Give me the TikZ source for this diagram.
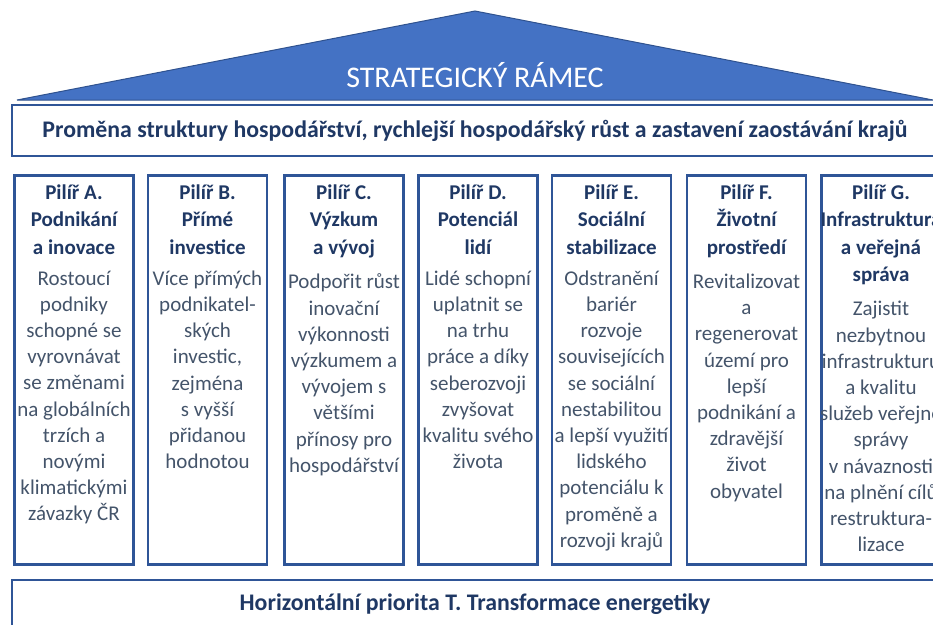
\documentclass[tikz,border=0pt]{standalone}
\usepackage{fontspec}
\setmainfont{Carlito}
\usetikzlibrary{positioning}
\definecolor{roofblue}{HTML}{4472C4}
\definecolor{roofedge}{HTML}{2F528F}
\definecolor{frameblue}{HTML}{2F5597}
\definecolor{headnavy}{HTML}{1F3864}
\definecolor{bodygray}{HTML}{44546A}

\begin{document}
\begin{tikzpicture}[x=1pt,y=-1pt,
	pillar/.style={draw=frameblue,line width=2.6pt,minimum width=119pt,minimum height=389pt,inner sep=0pt},
	pilhead/.style={anchor=north,align=center,inner sep=0pt,text=headnavy,font=\fontsize{21}{27.5}\selectfont\bfseries},
	pilbody/.style={align=center,inner sep=0pt,text=bodygray,font=\fontsize{21}{26.2}\selectfont},
	bar/.style={draw=frameblue,line width=2.2pt,inner sep=0pt}]
\useasboundingbox (0,0) rectangle (933,624);

% roof
\draw[fill=roofblue,draw=roofedge,line width=1pt] (17,100) -- (475,11) -- (933,100) -- cycle;
\node[text=white,font=\fontsize{30}{32}\selectfont] (title) at (475,75) {STRATEGICKÝ RÁMEC};

% top beam
\node[bar,minimum width=926pt,minimum height=51pt] (goal) at (475,130.5) {};
\node[text=headnavy,font=\fontsize{23.8}{26}\selectfont\bfseries] (goaltext) at (goal.center) {Proměna struktury hospodářství, rychlejší hospodářský růst a zastavení zaostávání krajů};

% pillars
\node[pillar] (pilA) at (74,370) {};
\node[pillar] (pilB) at (207.5,370) {};
\node[pillar] (pilC) at (344,370) {};
\node[pillar] (pilD) at (478,370) {};
\node[pillar] (pilE) at (611.5,370) {};
\node[pillar] (pilF) at (746.5,370) {};
\node[pillar] (pilG) at (881,370) {};

\node[pilhead] (headA) at ([yshift=-10pt]pilA.north) {Pilíř A.\\Podnikání\\a inovace};
\node[pilbody,below=16pt of headA] (bodyA) {Rostoucí\\podniky\\schopné se\\vyrovnávat\\se změnami\\na globálních\\trzích a\\novými\\klimatickými\\závazky ČR};

\node[pilhead] (headB) at ([yshift=-10pt]pilB.north) {Pilíř B.\\Přímé\\investice};
\node[pilbody,below=16pt of headB] (bodyB) {Více přímých\\podnikatel-\\ských\\investic,\\zejména\\s vyšší\\přidanou\\hodnotou};

\node[pilhead] (headC) at ([yshift=-10pt]pilC.north) {Pilíř C.\\Výzkum\\a vývoj};
\node[pilbody,below=16pt of headC] (bodyC) {Podpořit růst\\inovační\\výkonnosti\\výzkumem a\\vývojem s\\většími\\přínosy pro\\hospodářství};

\node[pilhead] (headD) at ([yshift=-10pt]pilD.north) {Pilíř D.\\Potenciál\\lidí};
\node[pilbody,below=16pt of headD] (bodyD) {Lidé schopní\\uplatnit se\\na trhu\\práce a díky\\seberozvoji\\zvyšovat\\kvalitu svého\\života};

\node[pilhead] (headE) at ([yshift=-10pt]pilE.north) {Pilíř E.\\Sociální\\stabilizace};
\node[pilbody,below=16pt of headE] (bodyE) {Odstranění\\bariér\\rozvoje\\souvisejících\\se sociální\\nestabilitou\\a lepší využití\\lidského\\potenciálu k\\proměně a\\rozvoji krajů};

\node[pilhead] (headF) at ([yshift=-10pt]pilF.north) {Pilíř F.\\Životní\\prostředí};
\node[pilbody,below=16pt of headF] (bodyF) {Revitalizovat\\a\\regenerovat\\území pro\\lepší\\podnikání a\\zdravější\\život\\obyvatel};

\node[pilhead] (headG) at ([yshift=-10pt]pilG.north) {Pilíř G.\\Infrastruktura\\a veřejná\\správa};
\node[pilbody,below=16pt of headG] (bodyG) {Zajistit\\nezbytnou\\infrastrukturu\\a kvalitu\\služeb veřejné\\správy\\v návaznosti\\na plnění cílů\\restruktura-\\lizace};

% bottom beam
\node[bar,minimum width=926pt,minimum height=60pt] (energy) at (475,610) {};
\node[text=headnavy,font=\fontsize{23.8}{26}\selectfont\bfseries] (energytext) at (475,604) {Horizontální priorita T. Transformace energetiky};

\end{tikzpicture}
\end{document}
